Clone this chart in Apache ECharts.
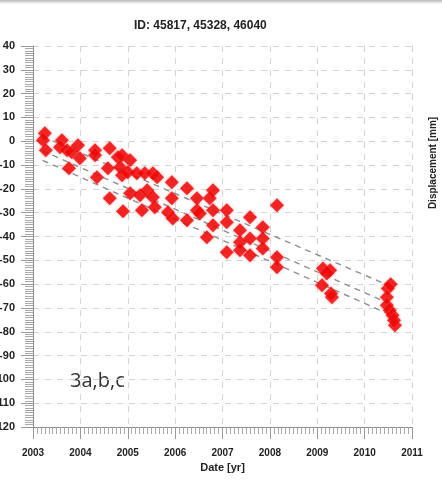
<!DOCTYPE html>
<html>
<head>
<meta charset="utf-8">
<script src="https://cdn.jsdelivr.net/npm/echarts@6/dist/echarts.min.js"></script>
<style>
html,body{margin:0;padding:0;background:#fff;}
#chart{width:442px;height:484px;}
</style>
</head>
<body>
<div id="chart"></div>
<script>
var titleText = 'ID: 45817, 45328, 46040';
var xName = 'Date [yr]';
var yName = 'Displacement [mm]';
var annotation = '3a,b,c';

var dates = [2003.25,2003.21,2003.27,2003.61,2003.57,2003.72,2003.82,2003.95,2003.99,2003.76,
  2004.31,2004.31,2004.62,2004.79,2004.58,2004.35,2004.62,2004.88,2004.90,2004.88,
  2005.05,2004.84,2005.00,2005.19,2005.36,2005.53,2005.62,2005.93,2006.25,2005.05,
  2005.26,2005.41,2005.53,2005.93,2005.30,2005.57,2005.85,2005.95,2006.25,2006.46,
  2006.46,2006.67,2006.80,2006.73,2006.80,2007.09,2008.15,2006.52,2006.80,2007.09,
  2007.58,2007.85,2007.37,2007.58,2007.37,2007.85,2007.09,2007.37,2007.58,2007.85,
  2008.15,2008.15,2009.12,2009.27,2009.20,2009.10,2009.31,2009.29,2010.49,2010.55,
  2010.47,2010.47,2010.53,2010.59,2010.64,2010.62];
var displacement = [3.4,0.4,-3.8,0.4,-2.5,-3.8,-4.6,-1.7,-7.1,-11.3,
  -3.8,-5.9,-2.9,-6.7,-11.3,-15.1,-23.9,-14.3,-29.4,-5.9,
  -8.0,-10.9,-13.0,-13.4,-13.4,-13.4,-15.1,-17.2,-19.7,-21.8,
  -22.7,-20.6,-23.5,-23.9,-29.0,-27.7,-29.8,-32.4,-33.2,-23.9,
  -29.0,-40.3,-20.6,-23.9,-29.0,-29.0,-26.9,-30.3,-35.3,-34.0,
  -31.9,-36.1,-37.4,-40.8,-42.4,-40.8,-46.6,-45.8,-47.9,-45.0,
  -48.7,-52.9,-53.4,-54.2,-55.5,-60.5,-65.5,-63.9,-61.8,-60.1,
  -65.5,-68.9,-71.0,-73.1,-77.3,-75.2];

var trendDates = [2003.2, 2010.5];
var trendTop = [2, -60.5];
var trendMid = [-4, -68];
var trendLow = [-8, -72.5];

var xTicks = [2003,2004,2005,2006,2007,2008,2009,2010,2011];
var yMin = -120, yMax = 40, yStep = 10;

function pairs(xs, ys){ return xs.map(function(x,i){ return [x, ys[i]]; }); }
function trend(ys){
  return {type:'line', data: pairs(trendDates, ys), symbol:'none', silent:true, z:1,
    lineStyle:{color:'#8a8f94', width:1.4, type:[6,5]}};
}

var chart = echarts.init(document.getElementById('chart'), null, {renderer:'canvas'});
chart.setOption({
  animation:false,
  backgroundColor:'#fff',
  title:{text:titleText, left:129, top:15,
    textStyle:{fontFamily:'Liberation Sans, Arial', fontWeight:'bold', fontSize:12, color:'#222'}},
  grid:{left:33, right:30, top:46, bottom:57, containLabel:false, outerBoundsMode:'none'},
  xAxis:{type:'value', min:xTicks[0], max:xTicks[xTicks.length-1], interval:1,
    name:xName, nameLocation:'middle', nameGap:34,
    nameTextStyle:{fontFamily:'Liberation Sans, Arial', fontWeight:'bold', fontSize:11, color:'#222'},
    axisLine:{onZero:false, lineStyle:{color:'#8c8c8c', width:1}},
    axisTick:{show:true, inside:false, length:12, lineStyle:{color:'#999'}},
    minorTick:{show:true, splitNumber:12, length:7, lineStyle:{color:'#aaa'}},
    axisLabel:{margin:21, fontFamily:'Liberation Sans, Arial', fontWeight:'bold', fontSize:10, color:'#222',
      formatter:function(v){return String(Math.round(v));}},
    splitLine:{show:true, lineStyle:{color:'#d4d4d4', type:[6,6], width:1}}
  },
  yAxis:{type:'value', min:yMin, max:yMax, interval:yStep,
    axisLine:{show:true, onZero:false, lineStyle:{color:'#8c8c8c', width:1}},
    axisTick:{show:true, inside:false, length:12, lineStyle:{color:'#999'}},
    minorTick:{show:true, splitNumber:10, length:8, lineStyle:{color:'#aaa'}},
    axisLabel:{margin:18, fontFamily:'Liberation Sans, Arial', fontWeight:'bold', fontSize:11, color:'#222'},
    splitLine:{show:true, lineStyle:{color:'#d4d4d4', type:[6,6], width:1}}
  },
  graphic:[
    {type:'rect', left:0, top:0, shape:{width:442, height:4}, silent:true,
      style:{fill:new echarts.graphic.LinearGradient(0,0,0,1,[{offset:0,color:'#b8b8b8'},{offset:1,color:'#ffffff'}])}},
    {type:'text', x:433, y:163, rotation:Math.PI/2, silent:true,
      style:{text:yName, fontFamily:'Liberation Sans, Arial', fontWeight:'bold', fontSize:10, fill:'#222',
        align:'center', verticalAlign:'middle'}},
    {type:'text', x:70, y:381, silent:true,
      style:{text:annotation, fontFamily:'Open Sans, Lato, sans-serif', fontSize:20, fill:'#333',
        align:'left', verticalAlign:'middle', shadowBlur:3, shadowColor:'rgba(0,0,0,0.25)'}}
  ],
  series:[
    trend(trendTop), trend(trendMid), trend(trendLow),
    {type:'scatter', data:pairs(dates, displacement), symbol:'diamond', symbolSize:14, z:3,
      itemStyle:{color:'#ee0000', shadowBlur:3, shadowColor:'rgba(255,80,80,0.6)'}}
  ]
});
</script>
</body>
</html>
